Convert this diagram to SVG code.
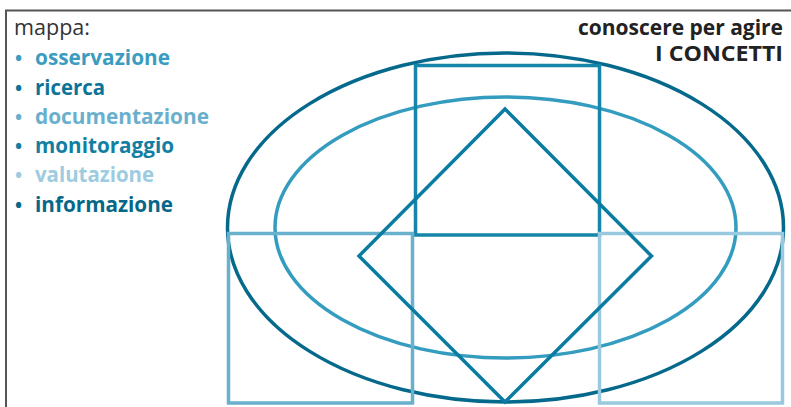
<svg xmlns="http://www.w3.org/2000/svg" width="791" height="407" viewBox="0 0 791 407">
<style>
.t{font-family:"Open Sans",Lato,"Liberation Sans",sans-serif;font-size:21px;font-weight:bold}
.b{font-size:19px}
.sh{fill:none}
</style>
<rect width="791" height="407" fill="#fff"/>
<g id="frame" stroke="#555" stroke-width="2" fill="none">
<path d="M6 407 V10.5 H791"/>
</g>
<g id="legend">
<text x="14" y="35" style="font-family:'Open Sans',Lato,sans-serif;font-size:21px;font-weight:normal" fill="#333" textLength="76" lengthAdjust="spacingAndGlyphs">mappa:</text>
<g class="t">
<text x="15" y="65" fill="#3a9cc0"><tspan class="b">•</tspan><tspan x="35" textLength="135" lengthAdjust="spacingAndGlyphs">osservazione</tspan></text>
<text x="15" y="95" fill="#0c7497"><tspan class="b">•</tspan><tspan x="35" textLength="70" lengthAdjust="spacingAndGlyphs">ricerca</tspan></text>
<text x="15" y="124" fill="#6aafcc"><tspan class="b">•</tspan><tspan x="35" textLength="174" lengthAdjust="spacingAndGlyphs">documentazione</tspan></text>
<text x="15" y="153" fill="#127ea2"><tspan class="b">•</tspan><tspan x="35" textLength="139" lengthAdjust="spacingAndGlyphs">monitoraggio</tspan></text>
<text x="15" y="182" fill="#9dcce0"><tspan class="b">•</tspan><tspan x="35" textLength="119" lengthAdjust="spacingAndGlyphs">valutazione</tspan></text>
<text x="15" y="212" fill="#066888"><tspan class="b">•</tspan><tspan x="35" textLength="138" lengthAdjust="spacingAndGlyphs">informazione</tspan></text>
</g>
</g>
<g id="title" class="t" fill="#222">
<text x="578" y="35" textLength="205" lengthAdjust="spacingAndGlyphs">conoscere per agire</text>
<text x="655" y="61" textLength="128" lengthAdjust="spacingAndGlyphs">I CONCETTI</text>
</g>
<g id="shapes" class="sh">
<ellipse id="outer-ellipse" cx="505.5" cy="227.5" rx="278" ry="174.5" stroke="#05698c" stroke-width="3.5"/>
<ellipse id="inner-ellipse" cx="505.5" cy="227.5" rx="230.5" ry="130.5" stroke="#339cbf" stroke-width="3.5"/>
<rect id="top-square" x="415.5" y="65.5" width="184" height="169.5" stroke="#1586aa" stroke-width="3.5"/>
<rect id="left-square" x="228.5" y="233.5" width="184" height="169.5" stroke="#69b0cd" stroke-width="3.5"/>
<rect id="right-square" x="599.5" y="233.5" width="183" height="169.5" stroke="#98c9de" stroke-width="3.5"/>
<polygon id="diamond" points="505,109 651.5,256 505,402 359,256" stroke="#0a7ca1" stroke-width="3.5" stroke-linejoin="miter"/>
</g>
</svg>
